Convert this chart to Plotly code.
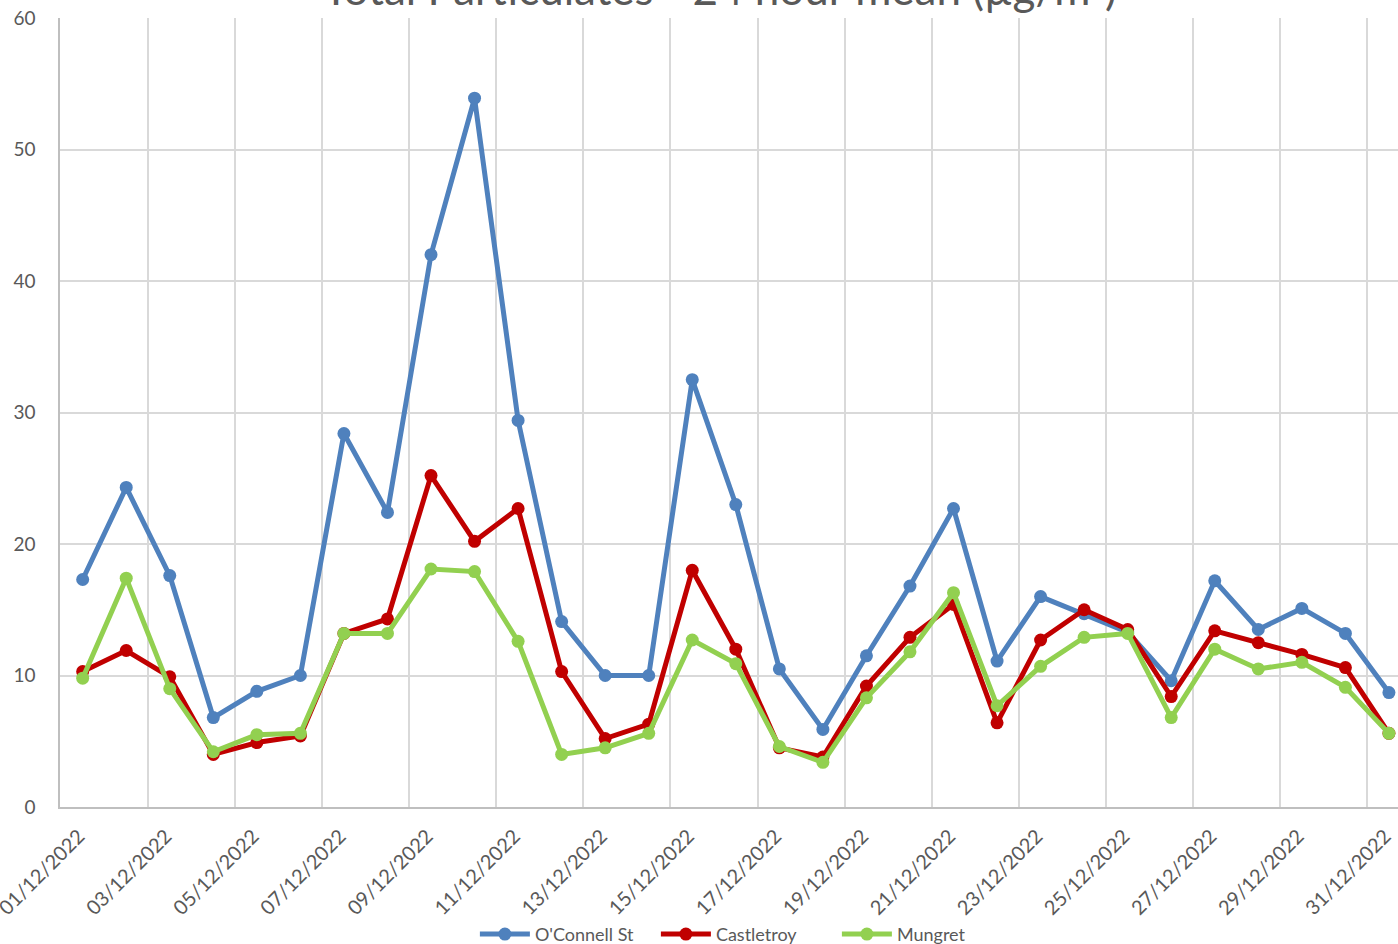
import plotly.graph_objects as go
import pandas as pd

dates = pd.date_range("2022-12-01 12:00", periods=31, freq="D")

oconnell = [17.3, 24.3, 17.6, 6.8, 8.8, 10.0, 28.4, 22.4, 42.0, 53.9, 29.4, 14.1, 10.0, 10.0, 32.5, 23.0,
            10.5, 5.9, 11.5, 16.8, 22.7, 11.1, 16.0, 14.7, 13.3, 9.6, 17.2, 13.5, 15.1, 13.2, 8.7]
castletroy = [10.3, 11.9, 9.9, 4.0, 4.9, 5.4, 13.2, 14.3, 25.2, 20.2, 22.7, 10.3, 5.2, 6.3, 18.0, 12.0,
              4.5, 3.8, 9.2, 12.9, 15.4, 6.4, 12.7, 15.0, 13.5, 8.4, 13.4, 12.5, 11.6, 10.6, 5.6]
mungret = [9.8, 17.4, 9.0, 4.2, 5.5, 5.6, 13.2, 13.2, 18.1, 17.9, 12.6, 4.0, 4.5, 5.6, 12.7, 10.9,
           4.6, 3.4, 8.3, 11.8, 16.3, 7.7, 10.7, 12.9, 13.2, 6.8, 12.0, 10.5, 11.0, 9.1, 5.6]

series = [("O'Connell St", oconnell, "#4F81BD"),
          ("Castletroy", castletroy, "#C00000"),
          ("Mungret", mungret, "#92D050")]

fig = go.Figure()
for name, vals, color in series:
    fig.add_trace(go.Scatter(x=dates, y=vals, name=name, mode="lines+markers",
                             line=dict(color=color, width=5),
                             marker=dict(color=color, size=13)))

fig.add_annotation(text="Total Particulates - 24 hour mean (µg/m³)",
                   xref="paper", yref="paper", x=0.493, y=1.002,
                   xanchor="center", yanchor="bottom", showarrow=False,
                   font=dict(size=44, color="#595959"))

fig.update_layout(
    width=1398, height=944,
    paper_bgcolor="white", plot_bgcolor="white",
    font=dict(family="Lato, Carlito, sans-serif", size=19, color="#595959"),
    margin=dict(l=60, r=0, t=18, b=137, autoexpand=False),
    showlegend=True,
    legend=dict(orientation="h", x=0.513, xanchor="center", y=-0.138, yanchor="top",
                font=dict(size=18, color="#595959"), itemwidth=50,
                entrywidth=116, entrywidthmode="pixels"),
    xaxis=dict(type="date", range=["2022-11-30 23:30", "2022-12-31 17:00"],
               tick0="2022-12-01", dtick=2 * 86400000, tickformat="%d/%m/%Y",
               tickangle=-45, showgrid=True, gridcolor="#D9D9D9", gridwidth=1.5,
               showline=True, linecolor="#BFBFBF", linewidth=1.5, ticks="",
               zeroline=False, automargin=False, ticklabelshift=18, ticklabelstandoff=8,
               ticklabeloverflow="allow", tickfont=dict(size=20)),
    yaxis=dict(range=[0, 60], dtick=10, showgrid=True, gridcolor="#D9D9D9", gridwidth=1.5,
               showline=True, linecolor="#BFBFBF", linewidth=1.5, zeroline=False,
               ticks="", ticklabelstandoff=19, automargin=False),
)

fig.write_html("out.html", config={"displayModeBar": False},
               post_script="document.body.style.margin='0';document.body.style.overflow='hidden';")
